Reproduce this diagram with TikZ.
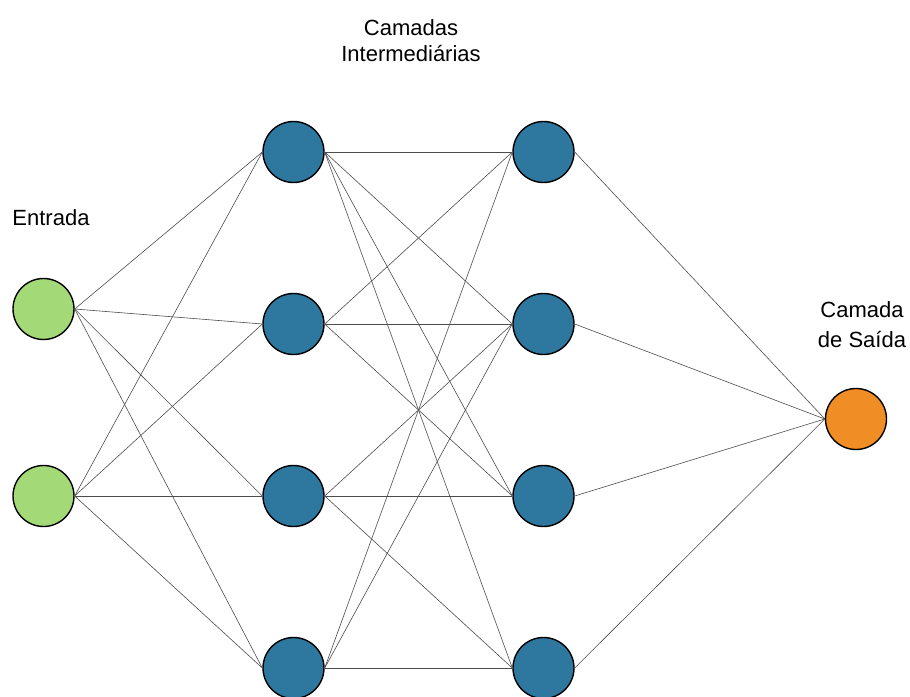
\documentclass[tikz,border=0pt]{standalone}
\usepackage{fontspec}
\setmainfont{Liberation Sans}
\definecolor{ingreen}{RGB}{164,217,119}
\definecolor{hidblue}{RGB}{46,120,160}
\definecolor{outorange}{RGB}{240,141,36}
\begin{document}
\begin{tikzpicture}[x=1pt,y=-1pt,
  neuron/.style={circle,draw=black,line width=1.4pt,minimum size=61pt,inner sep=0pt},
  conn/.style={draw=black!70,line width=0.6pt},
  lbl/.style={font=\fontsize{22}{28}\selectfont,align=center,inner sep=0pt}]
\useasboundingbox (0,0) rectangle (910,696);
\node[neuron,fill=ingreen] (i1) at (43.5,309) {};
\node[neuron,fill=ingreen] (i2) at (43.5,496) {};
\foreach \k/\y in {1/152,2/324,3/496,4/668}{
  \node[neuron,fill=hidblue] (a\k) at (293.5,\y) {};
  \node[neuron,fill=hidblue] (b\k) at (543.5,\y) {};
}
\node[neuron,fill=outorange] (o) at (856,419) {};
\foreach \i in {1,2}{\foreach \k in {1,...,4}{\draw[conn] (i\i.east) -- (a\k.west);}}
\foreach \j/\k in {1/1,1/2,1/3,1/4,2/1,2/2,2/3,3/2,3/3,3/4,4/1,4/2,4/4}{\draw[conn] (a\j.east) -- (b\k.west);}
\foreach \k in {1,...,4}{\draw[conn] (b\k.east) -- (o.west);}
\node[lbl,anchor=base] (t1) at (411,35) {Camadas};
\node[lbl,anchor=base] (t2) at (411,61) {Intermediárias};
\node[lbl,anchor=base] (t3) at (51,225) {Entrada};
\node[lbl,anchor=base] (t4) at (862,317) {Camada};
\node[lbl,anchor=base] (t5) at (862,347) {de Saída};
\end{tikzpicture}
\end{document}
